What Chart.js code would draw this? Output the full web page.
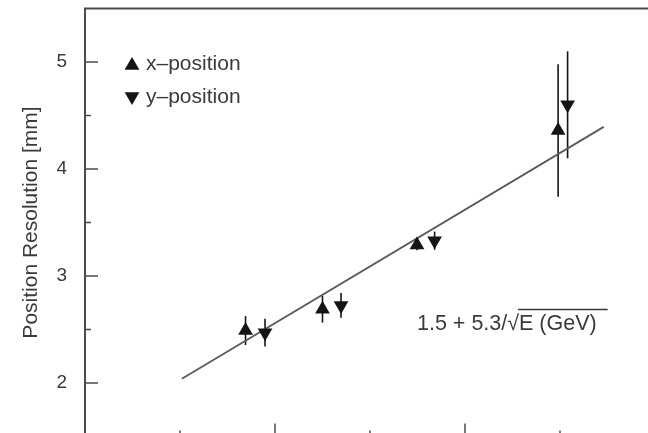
<!DOCTYPE html>
<html>
<head>
<meta charset="utf-8">
<title>Position Resolution</title>
<script src="https://cdn.jsdelivr.net/npm/chart.js@4/dist/chart.umd.min.js"></script>
<style>
  html, body { margin: 0; padding: 0; background: #fff; width: 648px; height: 433px; overflow: hidden; }
  canvas { display: block; }
</style>
</head>
<body>
<canvas id="chart" width="680" height="470"></canvas>
<script>
// x axis: 1/sqrt(E) in GeV^-1/2
const xPosU   = [0.169, 0.250, 0.3495, 0.498];
const xPosRes = [2.49, 2.69, 3.29, 4.36];
const xPosErr = [0.135, 0.125, 0.05, 0.62];

const yPosU   = [0.1895, 0.2695, 0.368, 0.508];
const yPosRes = [2.47, 2.725, 3.33, 4.60];
const yPosErr = [0.13, 0.115, 0.085, 0.50];

// fit: 1.5 + 5.3/sqrt(E)
const fitConst = 1.5;
const fitSlope = 5.3;
const fitU = [0.102, 0.546];
const fitRes = fitU.map(u => fitConst + fitSlope * u);

const yTickLabels = [2, 3, 4, 5];
const seriesNames = ['x\u2013position', 'y\u2013position'];
const fitLabel = '1.5 + 5.3/\u221AE (GeV)';
const yTitle = 'Position Resolution [mm]';

const FONT = "'Liberation Sans', Arial, Helvetica, sans-serif";
const INK = '#141414';
const AXIS = '#4a4a4a';
const TEXT = '#3a3a3a';

const toPoints = (xs, ys) => xs.map((u, i) => ({ x: u, y: ys[i] }));

// vertical error bars, drawn under the markers
const errorBars = {
  id: 'errorBars',
  beforeDatasetsDraw(chart) {
    const { ctx, scales: { x, y } } = chart;
    const sets = [[xPosU, xPosRes, xPosErr], [yPosU, yPosRes, yPosErr]];
    ctx.save();
    ctx.strokeStyle = INK;
    ctx.lineWidth = 1.6;
    sets.forEach(([us, vs, es]) => {
      us.forEach((u, i) => {
        const px = x.getPixelForValue(u);
        ctx.beginPath();
        ctx.moveTo(px, y.getPixelForValue(vs[i] + es[i]));
        ctx.lineTo(px, y.getPixelForValue(vs[i] - es[i]));
        ctx.stroke();
      });
    });
    ctx.restore();
  }
};

// box frame with inward major/minor tick marks
const frame = {
  id: 'frame',
  afterDraw(chart) {
    const { ctx, chartArea: a, scales: { x, y } } = chart;
    ctx.save();
    ctx.strokeStyle = AXIS;
    ctx.lineWidth = 2;
    ctx.strokeRect(a.left, a.top, a.right - a.left, a.bottom - a.top);
    ctx.lineWidth = 1.5;
    y.ticks.forEach(t => {
      const v = t.value;
      if (v <= y.min || v >= y.max) return;
      const major = Math.abs(v - Math.round(v)) < 1e-6;
      const py = y.getPixelForValue(v);
      ctx.beginPath();
      ctx.moveTo(a.left, py);
      ctx.lineTo(a.left + (major ? 13 : 6), py);
      ctx.stroke();
    });
    x.ticks.forEach(t => {
      const v = t.value;
      if (v <= x.min || v >= x.max) return;
      const major = Math.round(v * 10) % 2 === 0;
      const px = x.getPixelForValue(v);
      ctx.beginPath();
      ctx.moveTo(px, a.bottom);
      ctx.lineTo(px, a.bottom - (major ? 13 : 6));
      ctx.stroke();
    });
    ctx.restore();
  }
};

// legend block and fit formula inside the plot
const annotations = {
  id: 'annotations',
  afterDraw(chart) {
    const { ctx } = chart;
    ctx.save();
    const tri = (cx, cy, r, down) => {
      const s = down ? -1 : 1;
      ctx.beginPath();
      ctx.moveTo(cx, cy - s * r);
      ctx.lineTo(cx + r * Math.sqrt(3) / 2, cy + s * r / 2);
      ctx.lineTo(cx - r * Math.sqrt(3) / 2, cy + s * r / 2);
      ctx.closePath();
      ctx.fill();
    };
    ctx.fillStyle = INK;
    tri(132, 65.5, 8.5, false);
    tri(132, 96.5, 8.5, true);
    ctx.fillStyle = TEXT;
    ctx.font = '21px ' + FONT;
    ctx.textBaseline = 'alphabetic';
    ctx.textAlign = 'left';
    ctx.fillText(seriesNames[0], 146, 70);
    ctx.fillText(seriesNames[1], 146, 103);

    // formula with radical overline
    const fx = 417, fy = 330;
    ctx.font = '21.5px ' + FONT;
    ctx.fillText(fitLabel, fx, fy);
    const pre = fitLabel.slice(0, fitLabel.indexOf('\u221A'));
    const sx = fx + ctx.measureText(pre).width;
    const sw = ctx.measureText('\u221A').width;
    const endX = fx + ctx.measureText(fitLabel).width;
    ctx.strokeStyle = TEXT;
    ctx.lineWidth = 1.5;
    ctx.beginPath();
    ctx.moveTo(sx + sw - 1, 309.5);
    ctx.lineTo(endX + 11, 309.5);
    ctx.stroke();
    ctx.restore();
  }
};

new Chart(document.getElementById('chart'), {
  type: 'scatter',
  data: {
    datasets: [
      {
        label: seriesNames[0],
        data: toPoints(xPosU, xPosRes),
        pointStyle: 'triangle',
        rotation: 0,
        pointRadius: 8.5,
        pointHoverRadius: 8.5,
        backgroundColor: INK,
        borderColor: INK,
        borderWidth: 0,
        showLine: false
      },
      {
        label: seriesNames[1],
        data: toPoints(yPosU, yPosRes),
        pointStyle: 'triangle',
        rotation: 180,
        pointRadius: 8.5,
        pointHoverRadius: 8.5,
        backgroundColor: INK,
        borderColor: INK,
        borderWidth: 0,
        showLine: false
      },
      {
        label: 'fit',
        data: toPoints(fitU, fitRes),
        showLine: true,
        pointRadius: 0,
        borderColor: '#5a5a5a',
        borderWidth: 1.8,
        fill: false
      }
    ]
  },
  options: {
    responsive: false,
    animation: false,
    devicePixelRatio: 1,
    layout: { padding: { left: 0, top: 6, right: 25, bottom: 0 } },
    plugins: {
      legend: { display: false },
      tooltip: { enabled: false }
    },
    scales: {
      x: {
        type: 'linear',
        min: 0,
        max: 0.6,
        ticks: { display: false, stepSize: 0.1, autoSkip: false },
        grid: { display: false, drawTicks: false },
        border: { display: false },
        afterFit(scale) {
          scale.height = 33.5;
          scale.paddingLeft = 0;
          scale.paddingRight = 0;
        }
      },
      y: {
        type: 'linear',
        min: 1.5,
        max: 5.5,
        ticks: {
          stepSize: 0.5,
          autoSkip: false,
          padding: 18,
          color: TEXT,
          font: { family: FONT, size: 19 },
          callback: v => (yTickLabels.includes(v) ? String(v) : '')
        },
        grid: { display: false, drawTicks: false },
        border: { display: false },
        title: {
          display: true,
          text: yTitle,
          color: TEXT,
          font: { family: FONT, size: 21 },
          padding: { top: 19, bottom: 0 }
        },
        afterFit(scale) {
          scale.width = 85;
          scale.paddingTop = 0;
          scale.paddingBottom = 0;
        }
      }
    }
  },
  plugins: [errorBars, frame, annotations]
});
</script>
</body>
</html>
